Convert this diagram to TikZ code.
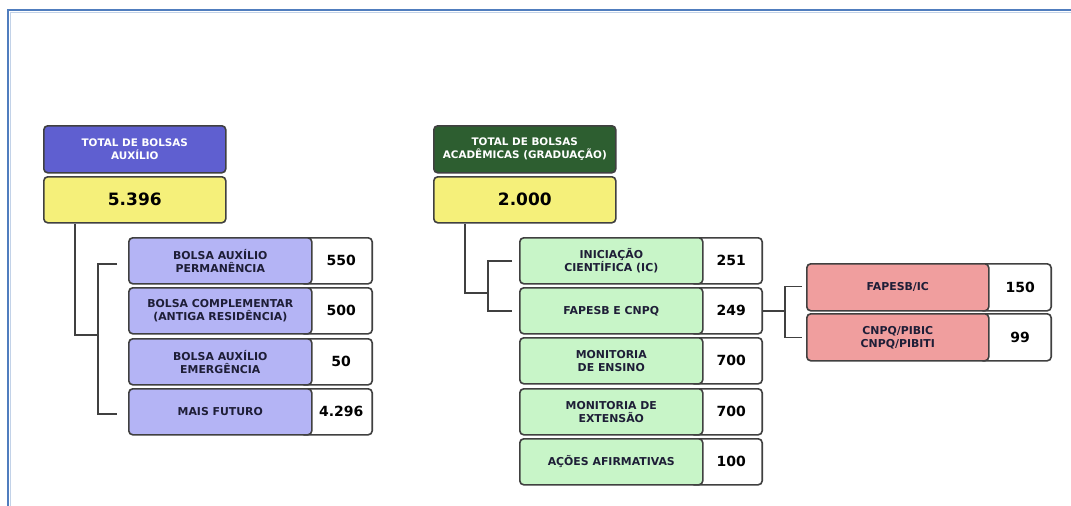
\documentclass[tikz,border=0pt]{standalone}
\usepackage{fontspec}
\setmainfont{DejaVu Sans}
\usetikzlibrary{calc}
\definecolor{hdrblue}{RGB}{95,95,208}
\definecolor{hdrgreen}{RGB}{45,94,48}
\definecolor{totyellow}{RGB}{245,240,122}
\definecolor{lav}{RGB}{180,180,245}
\definecolor{lgreen}{RGB}{200,245,200}
\definecolor{pink}{RGB}{240,158,158}
\definecolor{edge}{RGB}{64,64,64}
\definecolor{txt}{RGB}{30,30,55}
\definecolor{frame}{RGB}{80,125,190}
\tikzset{
  box/.style={draw=edge, line width=1.6pt, rounded corners=4pt, anchor=north west, inner sep=0pt, align=center},
  hdr/.style={box, minimum width=182, minimum height=47, text=white, font=\fontsize{10.4}{12.5}\selectfont\bfseries},
  tot/.style={box, fill=totyellow, minimum width=182, minimum height=46, font=\fontsize{17}{18}\selectfont\bfseries},
  lab/.style={box, minimum width=183, minimum height=46, text=txt, font=\fontsize{10.9}{13}\selectfont\bfseries},
  val/.style={box, fill=white, minimum height=46, anchor=north east, font=\fontsize{14}{15}\selectfont\bfseries},
  conn/.style={draw=edge, line width=1.6pt},
}
\begin{document}
\begin{tikzpicture}[x=1pt,y=-1pt]
\useasboundingbox (0,0) rectangle (1071,506);
\fill[white] (0,0) rectangle (1071,506);
% frame
\draw[frame, line width=2pt] (8,506) -- (8,10) -- (1071,10);
\draw[frame!35, line width=1.2pt] (10.5,506) -- (10.5,12.5) -- (1071,12.5);

% ---------- left group ----------
\node[hdr, fill=hdrblue] (hA) at (43,125) {TOTAL DE BOLSAS\\AUXÍLIO};
\node[tot] (tA) at (43,176) {5.396};
\foreach \n/\y/\l/\v in {1/237/{BOLSA AUXÍLIO\\PERMANÊNCIA}/550,
                        2/287/{BOLSA COMPLEMENTAR\\(ANTIGA RESIDÊNCIA)}/500,
                        3/338/{BOLSA AUXÍLIO\\EMERGÊNCIA}/50,
                        4/388/{MAIS FUTURO}/4.296}{
  \node[val, minimum width=72] (vA\n) at (373,\y) {\hspace*{10pt}\v};
  \node[lab, fill=lav] (lA\n) at (128,\y) {\l};
}
\coordinate (jA) at (98,335);
\coordinate (sA1) at ($(lA1.west)+(-11,3)$);
\coordinate (sA4) at ($(lA4.west)+(-11,2)$);
\draw[conn] (tA.south -| 75,0) |- (jA);
\draw[conn] (sA1) -| (jA) |- (sA4);

% ---------- right group ----------
\node[hdr, fill=hdrgreen] (hB) at (433,125) {TOTAL DE BOLSAS\\ACADÊMICAS (GRADUAÇÃO)};
\node[tot] (tB) at (433,176) {2.000};
\foreach \n/\y/\l/\v in {1/237/{INICIAÇÃO\\CIENTÍFICA (IC)}/251,
                        2/287/{FAPESB E CNPQ}/249,
                        3/337/{MONITORIA\\DE ENSINO}/700,
                        4/388/{MONITORIA DE\\EXTENSÃO}/700,
                        5/438/{AÇÕES AFIRMATIVAS}/100}{
  \node[val, minimum width=72] (vB\n) at (763,\y) {\hspace*{10pt}\v};
  \node[lab, fill=lgreen] (lB\n) at (519,\y) {\l};
}
\coordinate (jB) at (488,293);
\coordinate (sB1) at ($(lB1.west)+(-7,0)$);
\coordinate (sB2) at ($(lB2.west)+(-7,0)$);
\draw[conn] (tB.south -| 465,0) |- (jB);
\draw[conn] (sB1) -| (jB) |- (sB2);

% ---------- FAPESB E CNPQ breakdown ----------
\node[val, minimum width=72, minimum height=47] (vC1) at (1052,263) {\hspace*{10pt}150};
\node[lab, fill=pink, minimum width=182, minimum height=47] (lC1) at (806,263) {FAPESB/IC};
\node[val, minimum width=72, minimum height=47] (vC2) at (1052,313) {\hspace*{10pt}99};
\node[lab, fill=pink, minimum width=182, minimum height=47] (lC2) at (806,313) {CNPQ/PIBIC\\CNPQ/PIBITI};
\coordinate (jC) at ($(vB2.east)+(22,0)$);
\coordinate (sC1) at ($(lC1.west)+(-4,-1)$);
\coordinate (sC2) at ($(lC2.west)+(-4,0)$);
\draw[conn] (vB2.east) -- (jC);
\draw[conn] (sC1) -| (jC) |- (sC2);
\end{tikzpicture}
\end{document}
